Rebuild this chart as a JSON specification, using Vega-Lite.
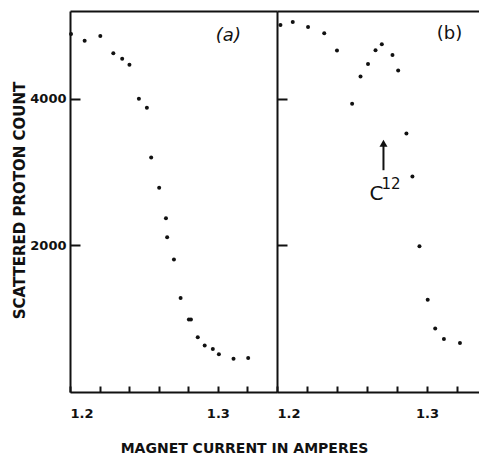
{
  "$schema": "https://vega.github.io/schema/vega-lite/v6.json",
  "background": "white",
  "autosize": {"type": "pad"},
  "padding": {"left": 12, "top": 11, "right": 0, "bottom": 0},
  "bounds": "flush",
  "spacing": 0,
  "config": {
    "view": {"stroke": null},
    "axis": {
      "grid": false,
      "domainColor": "#111",
      "domainWidth": 2,
      "tickColor": "#111",
      "tickWidth": 2,
      "labelFont": "DejaVu Sans",
      "labelFontSize": 13,
      "labelFontWeight": "bold",
      "labelColor": "#111",
      "titleFont": "DejaVu Sans",
      "titleFontSize": 14,
      "titleFontWeight": "bold",
      "titleColor": "#111"
    },
    "text": {"font": "DejaVu Sans", "color": "#111"}
  },
  "datasets": {
    "panelA": [
      {"current": 1.2007, "count": 4885},
      {"current": 1.2099, "count": 4795},
      {"current": 1.2205, "count": 4858},
      {"current": 1.2293, "count": 4622},
      {"current": 1.2353, "count": 4549},
      {"current": 1.2402, "count": 4467},
      {"current": 1.2466, "count": 4003},
      {"current": 1.2520, "count": 3880},
      {"current": 1.2549, "count": 3201},
      {"current": 1.2603, "count": 2787},
      {"current": 1.2649, "count": 2372},
      {"current": 1.2657, "count": 2112},
      {"current": 1.2703, "count": 1807},
      {"current": 1.2748, "count": 1284},
      {"current": 1.2804, "count": 988},
      {"current": 1.2818, "count": 988},
      {"current": 1.2864, "count": 746},
      {"current": 1.2911, "count": 633},
      {"current": 1.2966, "count": 587},
      {"current": 1.3007, "count": 514},
      {"current": 1.3106, "count": 455},
      {"current": 1.3205, "count": 464}
    ],
    "panelB": [
      {"current": 1.2023, "count": 5008},
      {"current": 1.2105, "count": 5049},
      {"current": 1.2207, "count": 4981},
      {"current": 1.2315, "count": 4898},
      {"current": 1.2400, "count": 4660},
      {"current": 1.2501, "count": 3934},
      {"current": 1.2557, "count": 4307},
      {"current": 1.2607, "count": 4475},
      {"current": 1.2657, "count": 4663},
      {"current": 1.2699, "count": 4745},
      {"current": 1.2770, "count": 4598},
      {"current": 1.2808, "count": 4389},
      {"current": 1.2863, "count": 3529},
      {"current": 1.2903, "count": 2941},
      {"current": 1.2950, "count": 1988},
      {"current": 1.3005, "count": 1258},
      {"current": 1.3055, "count": 865},
      {"current": 1.3113, "count": 725},
      {"current": 1.3220, "count": 669}
    ],
    "tagA": [{"current": 1.3071, "count": 4861, "tag": "(a)"}],
    "tagB": [{"current": 1.3150, "count": 4888, "tag": "(b)"}],
    "arrow": [{"current": 1.2710, "count": 3027, "count_end": 3378}],
    "arrowHead": [{"current": 1.2710, "count": 3395}],
    "isotope": [{"current": 1.2663, "count": 2627, "symbol": "C"}],
    "massNumber": [{"current": 1.2697, "count": 2777, "mass": "12"}]
  },
  "hconcat": [
    {
      "width": 207,
      "height": 381,
      "layer": [
        {
          "data": {"name": "panelA"},
          "mark": {"type": "circle", "size": 16, "color": "#111", "opacity": 1},
          "encoding": {
            "x": {
              "field": "current",
              "type": "quantitative",
              "scale": {"domain": [1.2, 1.34], "nice": false, "zero": false},
              "axis": {
                "orient": "bottom",
                "values": [1.2, 1.22, 1.24, 1.26, 1.28, 1.3, 1.32],
                "labelExpr": "abs(datum.value - 1.2) < 0.001 || abs(datum.value - 1.3) < 0.001 ? format(datum.value, '.1f') : ''",
                "tickSize": -6,
                "labelPadding": 21,
                "title": "MAGNET CURRENT IN AMPERES",
                "titleX": 174,
                "titleY": 49,
                "titleAlign": "center",
                "titleBaseline": "top"
              }
            },
            "y": {
              "field": "count",
              "type": "quantitative",
              "scale": {"domain": [0, 5200], "nice": false},
              "axis": {
                "values": [2000, 4000],
                "format": "d",
                "ticks": true,
                "tickSize": -10,
                "labelPadding": 14,
                "title": "SCATTERED PROTON COUNT",
                "titleFontSize": 15,
                "titleAngle": -90,
                "titleX": -51,
                "titleY": 189,
                "titleAlign": "center",
                "titleBaseline": "middle"
              }
            }
          }
        },
        {
          "data": {"name": "tagA"},
          "mark": {"type": "text", "fontSize": 18, "fontStyle": "italic", "baseline": "middle", "align": "center"},
          "encoding": {
            "x": {
              "field": "current",
              "type": "quantitative",
              "axis": {"orient": "top", "domain": true, "ticks": false, "labels": false, "title": null}
            },
            "y": {"field": "count", "type": "quantitative"},
            "text": {"field": "tag"}
          }
        }
      ],
      "resolve": {"axis": {"x": "independent"}}
    },
    {
      "width": 202,
      "height": 381,
      "layer": [
        {
          "data": {"name": "panelB"},
          "mark": {"type": "circle", "size": 16, "color": "#111", "opacity": 1},
          "encoding": {
            "x": {
              "field": "current",
              "type": "quantitative",
              "scale": {"domain": [1.2, 1.3347], "nice": false, "zero": false},
              "axis": {
                "orient": "bottom",
                "values": [1.2, 1.22, 1.24, 1.26, 1.28, 1.3, 1.32],
                "labelExpr": "abs(datum.value - 1.2) < 0.001 || abs(datum.value - 1.3) < 0.001 ? format(datum.value, '.1f') : ''",
                "tickSize": -6,
                "labelPadding": 21,
                "title": null
              }
            },
            "y": {
              "field": "count",
              "type": "quantitative",
              "scale": {"domain": [0, 5200], "nice": false},
              "axis": {"values": [2000, 4000], "tickSize": -10, "labels": false, "title": null}
            }
          }
        },
        {
          "data": {"name": "tagB"},
          "mark": {"type": "text", "fontSize": 18, "baseline": "middle", "align": "center"},
          "encoding": {
            "x": {
              "field": "current",
              "type": "quantitative",
              "axis": {"orient": "top", "domain": true, "ticks": false, "labels": false, "title": null}
            },
            "y": {"field": "count", "type": "quantitative"},
            "text": {"field": "tag"}
          }
        },
        {
          "data": {"name": "arrow"},
          "mark": {"type": "rule", "color": "#111", "strokeWidth": 2},
          "encoding": {
            "x": {"field": "current", "type": "quantitative", "axis": null},
            "y": {"field": "count", "type": "quantitative"},
            "y2": {"field": "count_end"}
          }
        },
        {
          "data": {"name": "arrowHead"},
          "mark": {"type": "point", "shape": "triangle-up", "filled": true, "size": 64, "color": "#111", "opacity": 1},
          "encoding": {
            "x": {"field": "current", "type": "quantitative", "axis": null},
            "y": {"field": "count", "type": "quantitative"}
          }
        },
        {
          "data": {"name": "isotope"},
          "mark": {"type": "text", "fontSize": 20, "align": "center", "baseline": "alphabetic"},
          "encoding": {
            "x": {"field": "current", "type": "quantitative", "axis": null},
            "y": {"field": "count", "type": "quantitative"},
            "text": {"field": "symbol"}
          }
        },
        {
          "data": {"name": "massNumber"},
          "mark": {"type": "text", "fontSize": 15, "align": "left", "baseline": "alphabetic"},
          "encoding": {
            "x": {"field": "current", "type": "quantitative", "axis": null},
            "y": {"field": "count", "type": "quantitative"},
            "text": {"field": "mass"}
          }
        }
      ],
      "resolve": {"axis": {"x": "independent"}}
    }
  ]
}
